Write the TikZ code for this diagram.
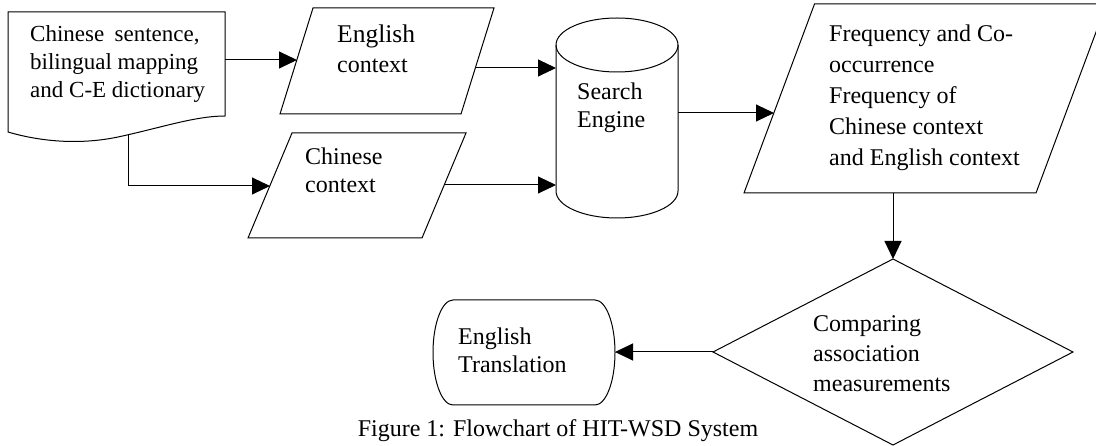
\documentclass[tikz,border=0pt]{standalone}
\usepackage{fontspec}
\setmainfont{Liberation Serif}
\usetikzlibrary{arrows.meta}
% left-aligned block of lines whose baseline is the first line
\newcommand\txtlines[1]{\begin{tabular}[t]{@{}l@{}}#1\end{tabular}}

\begin{document}
\begin{tikzpicture}[x=1pt,y=-1pt,
  shapeline/.style={draw=black, line width=1pt, line join=miter},
  flow/.style={line width=1pt, -{Triangle[length=18pt,width=17pt]}},
  lbl/.style={anchor=base west, inner sep=0pt, font=\fontsize{24}{28}\selectfont},
]
\useasboundingbox (0,0) rectangle (1096,446);
\fill[white] (0,0) rectangle (1096,446);

\begin{scope}
\clip (0,0) rectangle (1096,446);

% input document
\draw[shapeline] (8,12) -- (225,12) -- (225,116)
  .. controls (195,116) and (160,128) .. (118,137)
  .. controls (75,146) and (35,140) .. (8,132) -- cycle;
\coordinate (doc-r) at (225,60);
\coordinate (doc-b) at (128,135);
\node[lbl, font=\fontsize{23}{28}\selectfont] (doc) at (30,42)
  {\txtlines{Chinese\hspace{0.45em}sentence,\\bilingual mapping\\and C-E dictionary}};

% English context
\draw[shapeline] (280,114) -- (313,8) -- (494,8) -- (461,114) -- cycle;
\coordinate (eng-l) at (297,60);
\coordinate (eng-r) at (475,68);
\node[lbl, font=\fontsize{24}{30}\selectfont] (eng) at (337,43)
  {\txtlines{{\fontsize{25.5}{30}\selectfont English}\\context}};

% Chinese context
\draw[shapeline] (248,238) -- (292,133) -- (466,133) -- (422,238) -- cycle;
\coordinate (chn-l) at (270,186);
\coordinate (chn-r) at (444,185);
\node[lbl] (chn) at (305,165) {\txtlines{Chinese\\context}};

% search engine (cylinder)
\draw[shapeline] (617,45) ellipse [x radius=61, y radius=27];
\draw[shapeline] (556,45) -- (556,191)
  arc [start angle=180, end angle=0, x radius=61, y radius=27] -- (678,45);
\coordinate (cyl-l1) at (556,68);
\coordinate (cyl-l2) at (556,185);
\coordinate (cyl-r) at (678,113);
\node[lbl] (seng) at (577,100) {\txtlines{Search\\Engine}};

% frequency data
\draw[shapeline] (744,193) -- (814.5,4) -- (1106.5,4) -- (1036,193) -- cycle;
\coordinate (frq-l) at (774,113);
\coordinate (frq-b) at (893,193);
\node[lbl, font=\fontsize{24}{31}\selectfont] (freq) at (829,42)
  {\txtlines{Frequency and Co-\\occurrence\\Frequency of\\Chinese context\\and English context}};

% decision
\draw[shapeline] (713,352) -- (893,259) -- (1073,352) -- (893,445) -- cycle;
\coordinate (cmp-t) at (893,259);
\coordinate (cmp-l) at (713,352);
\node[lbl, font=\fontsize{24}{30}\selectfont] (cmp) at (813,332)
  {\txtlines{Comparing\\association\\measurements}};

% output terminal
\draw[shapeline] (453,300) -- (595,300)
  arc [start angle=-90, end angle=90, x radius=20, y radius=52.5]
  -- (453,405)
  arc [start angle=90, end angle=270, x radius=20, y radius=52.5] -- cycle;
\coordinate (out-r) at (615,352);
\node[lbl] (out) at (458,345) {\txtlines{English\\Translation}};

% connectors
\draw[flow] (doc-r) -- (eng-l);
\draw[flow] (doc-b) |- (chn-l);
\draw[flow] (eng-r) -- (cyl-l1);
\draw[flow] (chn-r) -- (cyl-l2);
\draw[flow] (cyl-r) -- (frq-l);
\draw[flow] (frq-b) -- (cmp-t);
\draw[flow] (cmp-l) -- (out-r);

% caption
\node[anchor=base, inner sep=0pt, font=\fontsize{24}{28}\selectfont] (caption) at (558,436)
  {Figure 1: Flowchart of HIT-WSD System};
\end{scope}
\end{tikzpicture}
\end{document}
